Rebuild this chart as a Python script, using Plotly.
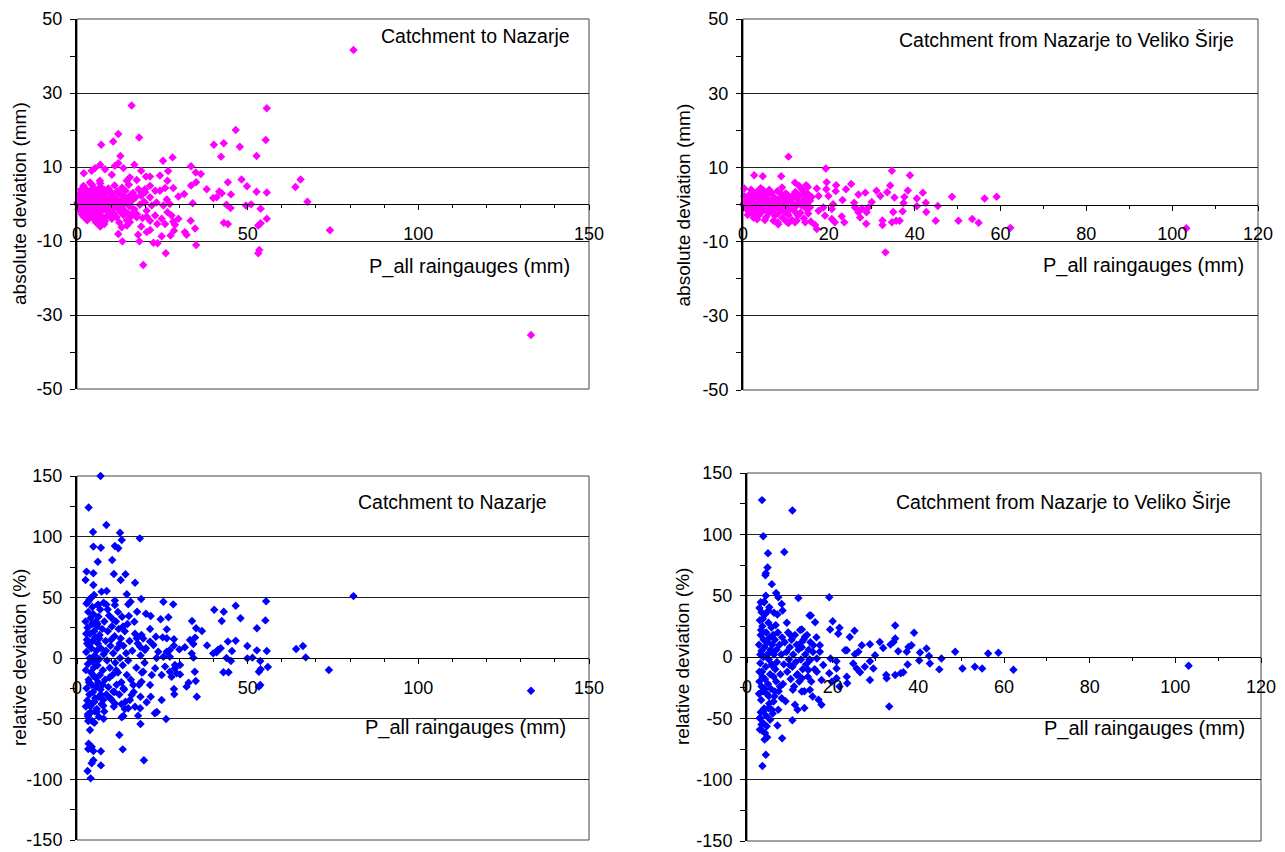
import plotly.graph_objects as go

# The page places the figure 8 px in from the window's top-left corner,
# so the figure is sized to the visible area and positions are shifted.
WIN_W, WIN_H = 1285, 852
OFF = 8
W, H = WIN_W - OFF, WIN_H - OFF

# ---------------- data ----------------
# Panel 1: absolute deviation (mm), Catchment to Nazarje
abs_naz_pts = [
    (16, 26.6), (55.6, 25.9), (46.5, 20), (12.1, 18.9), (18.2, 18), (10.6, 16.9), (7.1, 16), (40.1, 16),
    (43, 16.4), (55.3, 17.3), (47.7, 15.5), (12.7, 13), (42.2, 12.8), (52.6, 13), (12.1, 11), (25.2, 11.7),
    (28, 12.6), (16.8, 10.6), (6.8, 10.6), (33.4, 10.2), (2, 8.3), (18.8, 9), (26.7, 8.9), (34.8, 8.5),
    (36.3, 8.1), (20.2, 7.4), (21.4, 7.4), (24.3, 7.7), (65.5, 6.6), (64, 4.6), (48.2, 6.6), (44.2, 5.9),
    (26.5, 6.3), (33.4, 5), (34.9, 5.9), (38, 4), (49.8, 4.8), (52.6, 3.3), (55.6, 3.1), (41.7, 3.4),
    (40.9, 1.8), (39.9, 1.6), (45.1, 2.6), (42.4, 2.9), (67.5, 0.6), (49.5, -0.4), (51, -0.1), (29.7, 2),
    (31.4, 2.7), (33.9, 0.2), (43.8, -0.2), (45, -1.1), (53.8, -1.3), (55.6, -4), (53.8, -5.2), (53.1, -5.8),
    (43, -5.1), (44.2, -5.4), (33.3, -4.5), (34.6, -6.6), (34.9, -11.1), (53.4, -12.4), (53.1, -13.3),
    (26, -13.3), (19.4, -16.5), (13.3, -10.1), (18.3, -10.1), (22.4, -10.5), (23.6, -10.6), (12.1, -8.1),
    (6.8, -6.1), (6.8, -5.2), (31.6, -7.6), (32.1, -8.3), (27.4, -8.5), (28.4, -7.2), (24.8, -8.7),
    (21.4, -7), (18.8, -6.1), (17.9, -8.3), (20.4, -7.6), (13.1, -6.3), (29.7, -4), (28.2, -4.8),
    (24.8, -4), (26.5, -2.2), (27.7, -3.1), (28.7, -5.6), (25.8, -5.4), (23.5, -5.4), (22.9, -3.1),
    (21.4, -4.5), (20.4, -3.4), (17.5, -3.6), (15.5, -4.9), (14.6, -5.8), (16, -2.7), (27.2, 0),
    (25.3, -0.4), (23.3, 0.4), (26.3, 1.2), (24.3, 3.6), (25.8, 4.3), (28.2, 4.3), (22.9, 3.6), (21.4, 4.9),
    (19.9, 4), (18.9, 2.7), (17.5, 6.5), (15.5, 7.2), (14.6, 6.3), (13.6, 9.7), (11.1, 10.3), (10.2, 7.9),
    (8.2, 9.4), (5.3, 9.7), (4.3, 9), (6.7, 6.3), (3.8, 5.8), (1.9, 4.9), (21.4, 1.8), (21.9, -0.4),
    (19.9, 0.4), (81, 41.6), (74.1, -7.1), (133, -35.4),
    (0.3, 0.5), (0.5, -0.3), (0.8, 1.2), (1, -1), (1.2, 0.2), (1.5, 2), (1.6, -1.8), (1.8, 0.8), (2, -0.5),
    (2.2, 3), (2.4, -2.5), (2.6, 1.5), (2.8, -1.2), (3, 0.4), (3.2, 2.5), (3.4, -3), (3.6, -0.8), (3.8, 1.8),
    (4, 3.5), (4.2, -2), (4.4, 0.6), (4.6, -3.8), (4.8, 2.2), (5, -1.5), (5.2, 4), (5.4, 0), (5.6, -2.8),
    (5.8, 1), (6, 3), (6.2, -4.2), (6.4, -0.5), (6.6, 2), (6.8, -2.2), (7, 4.6), (7.2, 0.8), (7.4, -3.4),
    (7.6, 1.6), (7.8, -1), (8, 3.8), (8.2, -4.6), (8.4, 0.3), (8.6, 2.6), (8.8, -2), (9, -0.2), (9.2, 4.2),
    (9.4, -3), (9.6, 1.2), (9.8, -1.6), (10, 3), (10.2, -4), (10.4, 0.6), (10.6, 2.2), (10.8, -2.6), (11, 5),
    (11.2, -0.8), (11.4, 1.6), (11.6, -3.6), (11.8, 3.4), (12, -1.2), (12.2, 0.2), (12.4, -5), (12.6, 2.8),
    (12.8, -2.2), (13, 1), (13.2, 4.4), (13.4, -0.4), (13.6, -3), (13.8, 2), (14, -1.8), (14.2, 3.6),
    (14.4, 0.4), (14.6, -4.4), (14.8, 1.4), (15, -2.6), (15.2, 5.2), (15.4, -0.6), (15.6, 2.4), (15.8, -3.4),
    (16, 0.8), (16.4, 3), (16.8, -1.4), (17.2, 1.8), (17.6, -2.8), (18, 4), (18.4, -0.2), (18.8, 2.2),
    (19.2, -3.8), (19.6, 0.6), (20, 3.2), (20.4, -1.8), (0.6, 2.4), (1.4, -2.8), (2.4, 4.2), (3, -4.4),
    (4.4, 5.2), (5.6, -5), (6.8, 5.6), (8, -5.4), (2, 1.8), (3.6, 3.4), (4.8, -0.4), (6, -3.6), (1.1, 3.8),
    (0.2, -0.1), (0.1, 0.2), (0.4, -1.4), (0.7, 1.8), (1.3, 0.9), (2.7, -0.4), (3.3, 1.1), (4.1, -1.2),
    (5.1, 1.9), (5.9, -0.9), (7.1, -1.8), (8.3, 1.3), (9.3, 0.7), (10.3, -0.9), (11.3, 0.3), (1.9, -3.4),
    (2.9, 2.7), (3.9, -2.6), (4.9, 3.2), (5.3, -4.1), (6.3, 4.1), (7.3, 2.9), (8.7, -3.3), (9.7, 3.5),
]

# Panel 2: absolute deviation (mm), Catchment from Nazarje to Veliko Širje
abs_vel_pts = [
    (10.6, 12.9), (19.3, 9.7), (2.6, 7.9), (4.6, 7.6), (8.9, 7.6), (34.7, 9.1), (38.9, 7.9), (12.1, 5.9),
    (14.7, 5.2), (15.1, 4.7), (19.5, 6), (21.7, 5.2), (25.2, 5.5), (17.2, 4.3), (19.4, 4.1), (24, 4.1),
    (21.6, 3.6), (28.5, 3.2), (26.9, 2.7), (31.1, 3.7), (33.6, 3.3), (34.3, 5.1), (38.4, 3.8), (41.9, 3.2),
    (48.7, 2.1), (56.3, 1.6), (59.1, 2.1), (32, 2.3), (35.3, 1.9), (37.6, 2), (30, 0.7), (37.4, 0.4),
    (40.5, 1.6), (42.6, 0.5), (45.4, -0.4), (40.5, -0.5), (37.2, -1.8), (42.7, -2), (35, -2), (32.5, -4.3),
    (32.5, -5.5), (34.7, -4.8), (35.7, -4.4), (36.5, -4.4), (28.7, -5.2), (44.9, -4.4), (50.2, -4.4),
    (53.4, -3.9), (54.9, -4.9), (62.3, -6.3), (33.2, -12.9), (23.2, 1.2), (25.9, 0.5), (26.1, -0.8),
    (27.7, -1.1), (29.2, -0.8), (26.9, -2.1), (28.8, -2.1), (27.3, -3.5), (23, -3.2), (23.6, -4.8),
    (21.4, -4.8), (20.7, -3.9), (19.1, -3), (17.2, -6.6), (16.8, -5.5), (17.6, -1.7), (18.7, -0.8),
    (20.7, -1.2), (21, 0.1), (19.9, 2.3), (17.6, 2.3), (15.6, 1), (10.6, -5), (8.2, -5.3), (12.5, -4.3),
    (14.5, -4.8), (0.3, 4.3), (103.3, -6.4),
    (0.2, 0.3), (0.4, -0.5), (0.6, 1.2), (0.8, -1.2), (1, 2), (1.2, 0), (1.4, -2), (1.6, 0.8), (1.8, 3),
    (2, -0.8), (2.2, 1.6), (2.4, -2.6), (2.6, 0.4), (2.8, 2.4), (3, -1.6), (3.2, 3.4), (3.4, 0), (3.6, -3),
    (3.8, 1.4), (4, -0.6), (4.2, 2.6), (4.4, -2), (4.6, 0.6), (4.8, 3.8), (5, -1.2), (5.2, 1.8), (5.4, -3.4),
    (5.6, 0.2), (5.8, 2.8), (6, -2.2), (6.2, 1), (6.4, -0.4), (6.6, 3.2), (6.8, -1.8), (7, 0.6), (7.2, 2),
    (7.4, -3), (7.6, 1.2), (7.8, -0.8), (8, 3.6), (8.2, -2.4), (8.4, 0.4), (8.6, 1.8), (8.8, -1.4), (9, 2.8),
    (9.2, -3.6), (9.4, 0), (9.6, 1.4), (9.8, -2), (10, 3), (10.2, -0.6), (10.4, 0.8), (10.6, -2.8), (10.8, 2),
    (11, -1.2), (11.2, 1.2), (11.4, -4.2), (11.6, 0.2), (11.8, 2.6), (12, -1.8), (12.2, 3.4), (12.4, -0.4),
    (12.6, 1.6), (12.8, -3), (13, 0.6), (13.2, 2.4), (13.4, -2.2), (13.6, -0.2), (13.8, 4), (14, 1),
    (14.2, -3.8), (14.4, 2.6), (14.6, -1), (14.8, 0.4), (15, 3), (15.2, -2.4), (15.4, 1.6), (15.6, -0.8),
    (15.8, -4.6), (16, 2), (0.3, 2.2), (1.1, -2.8), (1.9, 4), (2.5, -3.6), (3.3, -4), (4.1, 4.4), (5.1, -4.2),
    (6.1, 4), (7.1, -4.4), (8.1, -4.8), (9.1, 4.6), (10.1, -4.6), (12.1, -4.8), (13.1, 5), (0.5, 0.9),
    (0.9, -0.2), (1.5, 1.1), (2.1, -1.6), (2.7, -0.2), (3.5, 1.9), (4.3, -1.2), (5.3, 0.9), (6.3, -1.3),
    (7.3, 0), (0.1, -0.1), (0.15, 0.1),
]

# Panel 3: relative deviation (%), Catchment to Nazarje
rel_naz_pts = [
    (6.9, 150), (3.4, 124), (8.6, 109.6), (4.7, 103.8), (12.6, 103.3), (13.1, 97.3), (18.4, 98.6),
    (4.8, 91.8), (7, 90.9), (11.1, 92.3), (12.1, 90.4), (6.1, 79.4), (10.3, 80.8), (2.8, 71.2), (4.8, 69.8),
    (2.5, 64.3), (4.8, 60.2), (10.8, 69.2), (14.2, 69), (12.8, 64.3), (17, 62.1), (8.7, 55.2), (7.2, 54.7),
    (5, 51.9), (14.6, 52.5), (18.8, 48.6), (4, 49.2), (3.3, 46.4), (11.1, 47.3), (25.3, 46.4), (28.2, 44.2),
    (15.7, 46.4), (15, 44.2), (11.1, 43.7), (6.1, 43.7), (7.8, 45.6), (40.2, 39.8), (43, 38.2), (46.5, 43.1),
    (55.4, 46.7), (47.9, 32.7), (42.4, 30.5), (55.2, 31), (52.7, 24.5), (20.2, 36.5), (21.6, 34.6),
    (17.6, 38.2), (15.2, 34.6), (16.8, 29.9), (24.5, 31.9), (26.8, 33.5), (33.7, 30.5), (34.9, 24.5),
    (36.6, 22.3), (26.3, 23.6), (21.4, 23.9), (23.1, 17.6), (25.1, 17), (26.3, 16.2), (28.4, 15.4),
    (33.1, 14.8), (34.6, 16.8), (34.1, 11.5), (38.1, 10.4), (44.2, 13.5), (46.5, 14.3), (49.9, 9.9),
    (52.7, 6.3), (55.6, 5.8), (64.2, 7.4), (66.2, 9.9), (67, 0.5), (73.8, -9.9), (45.4, 5.8), (41.3, 6.9),
    (42.1, 8), (39.9, 3.8), (40.9, 4.7), (43.8, 0), (45.1, -2.5), (49.9, -0.3), (51.4, 0.3), (53.7, -2.5),
    (55.9, -7.4), (53.8, -9.3), (53.3, -11.3), (42.9, -11.8), (44.4, -11.8), (53.3, -23.6), (53.7, -22.3),
    (34.5, -11.3), (32.1, -23.6), (32.7, -20.3), (34.8, -19), (35.1, -31.9), (28.4, -25.5), (28.5, -29.9),
    (24.8, -34.6), (23.4, -44.5), (22.8, -45.6), (26.1, -50.3), (20.4, -36.5), (18.6, -31.9), (21.6, -31.9),
    (17.9, -47.5), (18.6, -54.4), (13.6, -47.8), (12.4, -63.5), (13.4, -75.3), (19.6, -84.3), (3.3, -51.9),
    (3.8, -59.3), (5.1, -53.3), (3.4, -70.6), (4.3, -73.1), (3.3, -75), (4.8, -76.6), (7, -76.9),
    (4.8, -84.3), (4.3, -86.8), (7, -88.5), (3.1, -93.1), (4, -99.2), (3.2, -46.4), (6.4, -48.4),
    (7.7, -34.6), (9.7, -33.2), (11.1, -37.4), (15.5, -34.6), (15, -41.5), (17, -40.1), (18.5, -41.5),
    (13.1, -48.9), (3.8, -45.6), (5.8, -44.2), (7.7, -39.3), (5.3, -33.2), (10.6, -27.7), (13.6, -25),
    (16, -30.5), (16.5, -22.3), (18.9, -19.5), (21.4, -22.3), (19.4, -11.3), (21.9, -14), (22.9, -8.5),
    (24.8, -14), (25.8, -7.1), (27.2, -11.3), (27.7, -15.4), (28.7, -5.8), (29.2, -12.6), (30.2, -13.5),
    (27.2, 1.1), (26.3, 5.2), (25.3, 1.1), (23.3, 0), (23.8, 5.2), (22.4, 10.7), (21.4, 13.5), (19.9, 6.6),
    (18.9, 19), (17.5, 16.2), (18.5, 9.3), (28.4, 10.2), (27.2, 6.6), (30, 7.1), (31.6, 8.8), (33.6, 3.8),
    (34.1, 0.3), (30.2, -5.8), (28.7, -8.5), (81, 51), (133, -27),
    (2.5, 30), (2.6, -10), (2.7, 5), (2.8, -25), (2.9, 15), (3, -35), (3.1, 25), (3.2, -5), (3.3, 38),
    (3.4, -18), (3.5, 10), (3.6, -30), (3.7, 0), (3.8, 20), (3.9, -40), (4, 33), (4.1, -12), (4.2, 8),
    (4.3, -22), (4.4, 28), (4.5, -3), (4.6, 14), (4.7, -28), (4.8, 36), (4.9, -8), (5, 22), (5.1, -36),
    (5.2, 2), (5.3, 17), (5.4, -16), (5.5, 30), (5.6, -24), (5.7, 6), (5.8, -42), (5.9, 26), (6, -6),
    (6.1, 12), (6.2, -20), (6.3, 34), (6.4, -32), (6.5, -1), (6.6, 19), (6.7, -14), (6.8, 40), (6.9, -26),
    (7, 8), (7.2, -38), (7.4, 24), (7.6, -10), (7.8, 3), (8, 30), (8.2, -18), (8.4, 14), (8.6, -30),
    (8.8, -2), (9, 22), (9.2, -24), (9.4, 35), (9.6, -8), (9.8, 10), (10, -34), (10.2, 26), (10.4, -14),
    (10.6, 4), (10.8, -40), (11, 18), (11.2, -4), (11.4, 30), (11.6, -22), (11.8, 8), (12, -12), (12.2, 24),
    (12.4, -30), (12.6, 0), (12.8, 16), (13, -20), (13.2, 34), (13.4, -6), (13.6, 10), (13.8, -26), (14, 22),
    (14.2, -36), (14.4, 4), (14.6, -14), (14.8, 28), (15, -2), (15.4, 14), (15.8, -18), (16.2, 6),
    (16.6, -28), (17, 20), (17.4, -8), (17.8, 12), (18.2, -22), (18.6, 2), (19, -12), (19.4, 16), (19.8, -4),
    (20.2, 8), (3, 12), (3.5, -20), (4, -45), (4.5, 42), (5, -15), (6, 28), (7, -30), (8, -44), (9, 40),
    (10, 15), (11, -28), (12, 38), (13, -38), (14, -42), (5.5, -2), (6.5, 16), (7.5, -22), (8.5, 6),
    (9.5, -16), (10.5, 32), (11.5, -10), (12.5, 12), (13.5, 26), (2.6, -40), (2.8, 45), (3.2, -48),
    (4.2, -38), (5.2, -44), (6.2, 44), (2.7, 20), (3.6, 48), (4.4, -52), (7.8, -50), (8.6, 44),
]

# Panel 4: relative deviation (%), Catchment from Nazarje to Veliko Širje
rel_vel_pts = [
    (3.5, 127.9), (10.6, 119.5), (3.8, 98.5), (4.9, 84.5), (8.7, 85.6), (4.8, 72.9), (4.4, 68.3),
    (4.3, 66.7), (5.8, 59.4), (6.8, 52.2), (7.3, 48.7), (12, 48.1), (19.2, 48.7), (4.4, 50), (3.2, 44.6),
    (4, 44.6), (5.2, 40.6), (8.1, 43.3), (8.3, 37.9), (6.3, 36), (7.1, 34.6), (3.4, 36.5), (14.6, 33.8),
    (14.9, 33.8), (9.3, 27.9), (15.9, 28.4), (20, 29.2), (3.7, 31.1), (12.8, 22.5), (10.1, 18.2),
    (21.6, 23.9), (19.4, 22.5), (21.3, 19), (25.1, 21.4), (24, 16.3), (34.6, 25.7), (39, 19.8), (34.6, 15),
    (34.2, 12.3), (33.5, 10.1), (31, 12.3), (31.8, 7.4), (28.7, 10.4), (26.8, 9.6), (29.9, 1.5), (26, 4.2),
    (25.2, 2.3), (22.9, 5.5), (23.3, 5.5), (35.3, 4.7), (37.7, 8.2), (38.4, 9.6), (37.3, 4.2), (41.9, 6.9),
    (40.4, 3.6), (42.5, 0.9), (40.2, -2.8), (45.4, -1.2), (48.6, 4.2), (56.3, 2.8), (58.7, 3.4),
    (42.7, -5.3), (44.9, -10.1), (50.3, -9.3), (53.2, -8), (54.9, -9.3), (37.5, -6.1), (36.5, -12.5),
    (35.9, -13.3), (34.6, -14.7), (32.5, -14.7), (32.6, -17.4), (33.2, -40.3), (28.7, -18.7), (29.5, -9.3),
    (28.7, -3.4), (27.5, -8), (26.4, -12.5), (25.6, -9.3), (24.8, -5.3), (23.3, -16), (23.4, -21.4),
    (21.6, -24.1), (20.9, -17.4), (20.9, -9.3), (20.9, -3.4), (19.5, -1.2), (19.2, -13.3), (19.8, -20.1),
    (17.4, -18.7), (17.4, -38.9), (16.7, -34.9), (15.3, -32.2), (14.7, -26.8), (13.4, -41.6), (12.8, -28.2),
    (11.8, -43), (11.2, -38.9), (10.7, -26.8), (10.6, -51.6), (7.1, -55.9), (8.2, -66.2), (3.6, -88.8),
    (4.4, -79.7), (4.7, -65.4), (4.1, -67.3), (3, -59.2), (3.4, -55.1), (4.6, -56.5), (5.4, -51.1),
    (3, -49.7), (3.8, -44.3), (5.8, -43), (7.3, -43), (8.1, -33.6), (6.2, -36.3), (7.7, -24.1), (6.5, -28.2),
    (5, -41.6), (10, -6.6), (12.8, 12.3), (13.5, 16.3), (15.5, 9.6), (17, 9.6), (17, 4.2), (17.8, -6.6),
    (16.3, -12), (14.3, -10.6), (12.8, -17.4), (11.6, -14.7), (14.7, -2.6), (16.3, -1.2), (103.1, -7.1),
    (62.2, -10.4),
    (2.8, 10), (2.9, -20), (3, 30), (3.1, -5), (3.2, 18), (3.3, -35), (3.4, 5), (3.5, -12), (3.6, 25),
    (3.7, -28), (3.8, 0), (3.9, 14), (4, -42), (4.1, 8), (4.2, -18), (4.3, 35), (4.4, -8), (4.5, 20),
    (4.6, -30), (4.7, 2), (4.8, 12), (4.9, -22), (5, 28), (5.1, -2), (5.2, -38), (5.3, 16), (5.4, -14),
    (5.5, 6), (5.6, -26), (5.7, 24), (5.8, -6), (5.9, 10), (6, -46), (6.1, 18), (6.2, -16), (6.3, 2),
    (6.4, -32), (6.5, 14), (6.6, -10), (6.7, 26), (6.8, -20), (6.9, 6), (7, -4), (7.2, 20), (7.4, -28),
    (7.6, 10), (7.8, -14), (8, 2), (8.2, 16), (8.4, -22), (8.6, -6), (8.8, 12), (9, -36), (9.2, 4),
    (9.4, -12), (9.6, 20), (9.8, -2), (10, 8), (10.2, -18), (10.4, 14), (10.6, -8), (10.8, 2), (11, -24),
    (11.2, 18), (11.4, -4), (11.6, 10), (11.8, -14), (12, 6), (12.2, -20), (12.4, 22), (12.6, -2), (12.8, 8),
    (13, -10), (13.2, 14), (13.4, -28), (13.6, 2), (13.8, -6), (14, 18), (14.2, -16), (14.4, 6), (14.6, -2),
    (14.8, 12), (15, -20), (15.4, 4), (15.8, -10), (16.2, 16), (3, -50), (3.5, -60), (4, 45), (4.5, -48),
    (5, 38), (3.2, -45), (3.8, -54), (4.2, -62), (2.9, 40), (3.3, 22), (3.6, -16), (4.1, -26), (4.6, 12),
    (5.1, -32), (5.6, 4), (6.1, -8), (2.8, -30), (2.9, -12), (3.1, 2), (3.4, -24),
]

title_naz = "Catchment to Nazarje"
title_vel = "Catchment from Nazarje to Veliko Širje"
x_title = "P_all raingauges (mm)"
y_title_abs = "absolute deviation (mm)"
y_title_rel = "relative deviation (%)"

abs_ticks = [-50, -30, -10, 10, 30, 50]
rel_ticks = [-150, -100, -50, 0, 50, 100, 150]
x_ticks_naz = [0, 50, 100, 150]
x_ticks_vel = [0, 20, 40, 60, 80, 100, 120]

MAGENTA = "#FF00FF"
BLUE = "#0000FF"
FONT = "Liberation Sans, Arial, sans-serif"

# ---------------- layout geometry (window pixels) ----------------
panels = [
    dict(l=77, r=589, t=19, b=389, pts=abs_naz_pts, color=MAGENTA, xt=x_ticks_naz, yt_vals=abs_ticks,
         ym=10, title=title_naz, tx=572, ty=36, xtx=572, xty=266, yt=y_title_abs, ytx=19),
    dict(l=743, r=1258, t=19, b=390, pts=abs_vel_pts, color=MAGENTA, xt=x_ticks_vel, yt_vals=abs_ticks,
         ym=10, title=title_vel, tx=1236, ty=40, xtx=1246, xty=265, yt=y_title_abs, ytx=683),
    dict(l=77, r=589, t=476, b=840, pts=rel_naz_pts, color=BLUE, xt=x_ticks_naz, yt_vals=rel_ticks,
         ym=25, title=title_naz, tx=549, ty=502, xtx=568, xty=727, yt=y_title_rel, ytx=19),
    dict(l=747, r=1261, t=473, b=841, pts=rel_vel_pts, color=BLUE, xt=x_ticks_vel, yt_vals=rel_ticks,
         ym=25, title=title_vel, tx=1233, ty=502, xtx=1247, xty=728, yt=y_title_rel, ytx=682),
]


def px(xw):
    return (xw - OFF) / W


def py(yw):
    return 1 - (yw - OFF) / H


fig = go.Figure()
layout = dict(
    width=W, height=H, margin=dict(l=0, r=0, t=0, b=0, pad=0, autoexpand=False),
    paper_bgcolor="white", plot_bgcolor="white", showlegend=False,
    font=dict(family=FONT, size=18, color="black"),
)
annotations = []
shapes = []

for i, p in enumerate(panels):
    n = i + 1
    sfx = "" if n == 1 else str(n)
    xs = [a for a, b in p["pts"]]
    ys = [b for a, b in p["pts"]]
    fig.add_trace(go.Scatter(
        x=xs, y=ys, mode="markers", xaxis="x" + sfx, yaxis="y" + sfx,
        marker=dict(symbol="diamond", size=6.5, color=p["color"], line=dict(width=0)),
        hoverinfo="x+y", cliponaxis=False,
    ))
    xdom = [px(p["l"]), px(p["r"])]
    ydom = [py(p["b"]), py(p["t"])]
    mid = (ydom[0] + ydom[1]) / 2
    xr = [p["xt"][0], p["xt"][-1]]
    yr = [p["yt_vals"][0], p["yt_vals"][-1]]
    layout["xaxis" + sfx] = dict(
        domain=xdom, range=xr, anchor="free", position=mid, automargin=False,
        showgrid=False, zeroline=False, showline=True, linecolor="black", linewidth=1,
        ticks="outside", ticklen=5, tickcolor="black",
        tickmode="array", tickvals=p["xt"], ticktext=[str(v) for v in p["xt"]],
        minor=dict(ticks="outside", ticklen=3, dtick=10, tick0=0, tickcolor="black", showgrid=False),
        ticklabelstandoff=8, ticklabeloverflow="allow", tickfont=dict(size=18, family=FONT),
        fixedrange=True,
    )
    layout["xaxis" + str(n + 4)] = dict(
        domain=xdom, range=xr, anchor="free", position=mid, overlaying="x" + sfx, automargin=False,
        showgrid=False, zeroline=False, showline=False,
        ticks="inside", ticklen=5, tickcolor="black", tickmode="array", tickvals=p["xt"],
        minor=dict(ticks="inside", ticklen=3, dtick=10, tick0=0, tickcolor="black", showgrid=False),
        showticklabels=False, fixedrange=True,
    )
    layout["yaxis" + sfx] = dict(
        domain=ydom, range=yr, anchor="x" + sfx, automargin=False,
        showgrid=True, gridcolor="#222222", gridwidth=1, zeroline=False,
        showline=True, linecolor="black", linewidth=2,
        ticks="outside", ticklen=5, tickcolor="black",
        tickmode="array", tickvals=p["yt_vals"], ticktext=[str(v) for v in p["yt_vals"]],
        minor=dict(ticks="outside", ticklen=5, dtick=p["ym"], tick0=yr[0], tickcolor="black",
                   showgrid=False),
        ticklabelstandoff=4, ticklabeloverflow="allow", tickfont=dict(size=18, family=FONT),
        fixedrange=True,
    )
    shapes.append(dict(type="rect", xref="x" + sfx + " domain", yref="y" + sfx + " domain",
                       x0=0, x1=1, y0=0, y1=1, line=dict(color="#444444", width=1), layer="below"))
    annotations.append(dict(text=p["title"], xref="paper", yref="paper", x=px(p["tx"]), y=py(p["ty"]),
                            xanchor="right", yanchor="middle", showarrow=False, font=dict(size=19.5)))
    annotations.append(dict(text=x_title, xref="paper", yref="paper", x=px(p["xtx"]), y=py(p["xty"]),
                            xanchor="right", yanchor="middle", showarrow=False, font=dict(size=20)))
    annotations.append(dict(text=p["yt"], xref="paper", yref="paper", x=px(p["ytx"]),
                            y=py((p["t"] + p["b"]) / 2), textangle=-90,
                            xanchor="center", yanchor="middle", showarrow=False, font=dict(size=19)))

layout["annotations"] = annotations
layout["shapes"] = shapes
fig.update_layout(**layout)
fig.write_html("out.html")
